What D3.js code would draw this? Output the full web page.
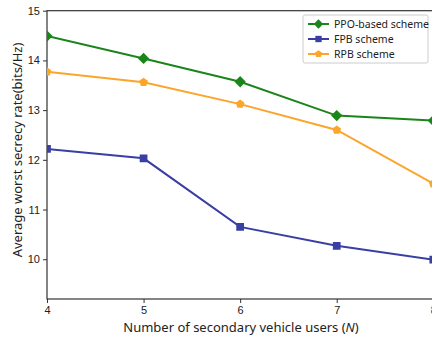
<!DOCTYPE html>
<html>
<head>
<meta charset="utf-8">
<script src="https://cdn.jsdelivr.net/npm/d3@7"></script>
<style>
  html, body { margin: 0; padding: 0; background: #fff; overflow: hidden; }
  svg { display: block; font-family: "Noto Sans", "Open Sans", sans-serif; }
</style>
</head>
<body>
<svg id="chart" width="432" height="338"></svg>
<script>
// Number of secondary vehicle users
const users = [4, 5, 6, 7, 8];
// Average worst secrecy rate (bits/Hz) per scheme
const ppoRate = [14.49, 14.04, 13.57, 12.89, 12.79];
const fpbRate = [12.22, 12.03, 10.65, 10.27, 9.99];
const rpbRate = [13.77, 13.56, 13.12, 12.60, 11.52];
const xTicks = [4, 5, 6, 7, 8];
const yTicks = [10, 11, 12, 13, 14, 15];
const seriesNames = ["PPO-based scheme", "FPB scheme", "RPB scheme"];

const series = [
  { name: seriesNames[0], values: ppoRate, color: "#1a851a", marker: "diamond" },
  { name: seriesNames[1], values: fpbRate, color: "#3a3fa3", marker: "square" },
  { name: seriesNames[2], values: rpbRate, color: "#fba52a", marker: "pentagon" }
];

const svg = d3.select("#chart");
const margin = { left: 47, top: 10.7, right: 433.3, bottom: 299 };

const x = d3.scaleLinear().domain([4, 8]).range([margin.left, margin.right]);
const y = d3.scaleLinear().domain([9.2, 15]).range([margin.bottom, margin.top]);

svg.append("defs").append("clipPath").attr("id", "plotClip")
  .append("rect")
  .attr("x", margin.left).attr("y", margin.top)
  .attr("width", margin.right - margin.left)
  .attr("height", margin.bottom - margin.top);

// axes
const axisColor = "#333";
const xAxis = svg.append("g")
  .attr("transform", `translate(0,${margin.bottom})`)
  .call(d3.axisBottom(x).tickValues(xTicks).tickFormat(d3.format("d")).tickSize(4).tickPadding(3));
const yAxis = svg.append("g")
  .attr("transform", `translate(${margin.left},0)`)
  .call(d3.axisLeft(y).tickValues(yTicks).tickFormat(d3.format("d")).tickSize(4).tickPadding(3));
[xAxis, yAxis].forEach(g => {
  g.select(".domain").remove();
  g.selectAll(".tick line").attr("stroke", axisColor).attr("stroke-width", 1);
  g.selectAll(".tick text").attr("fill", "#222").style("font-size", "11px");
});

// frame
svg.append("rect")
  .attr("x", margin.left).attr("y", margin.top)
  .attr("width", margin.right - margin.left)
  .attr("height", margin.bottom - margin.top)
  .attr("fill", "none").attr("stroke", axisColor).attr("stroke-width", 1.2);

// marker shapes: wide diamond, square, pentagon
const symDiamond = {
  draw(ctx, size) {
    const r = Math.sqrt(size / 2);
    ctx.moveTo(0, -r); ctx.lineTo(r, 0); ctx.lineTo(0, r); ctx.lineTo(-r, 0); ctx.closePath();
  }
};
const symPentagon = {
  draw(ctx, size) {
    const r = Math.sqrt(size / 2.38);
    for (let k = 0; k < 5; k++) {
      const a = -Math.PI / 2 + k * 2 * Math.PI / 5;
      if (k === 0) ctx.moveTo(r * Math.cos(a), r * Math.sin(a));
      else ctx.lineTo(r * Math.cos(a), r * Math.sin(a));
    }
    ctx.closePath();
  }
};
const symbolFor = {
  diamond: d3.symbol().type(symDiamond).size(64),
  square: d3.symbol().type(d3.symbolSquare).size(60),
  pentagon: d3.symbol().type(symPentagon).size(50)
};
const legendSymbolFor = {
  diamond: d3.symbol().type(symDiamond).size(44),
  square: d3.symbol().type(d3.symbolSquare).size(40),
  pentagon: d3.symbol().type(symPentagon).size(34)
};

// lines and markers
const line = d3.line().x((d, i) => x(users[i])).y(d => y(d));
const plot = svg.append("g").attr("clip-path", "url(#plotClip)");
series.forEach(s => {
  plot.append("path")
    .datum(s.values)
    .attr("d", line)
    .attr("fill", "none")
    .attr("stroke", s.color)
    .attr("stroke-width", 2);
  plot.selectAll(null)
    .data(s.values)
    .enter().append("path")
    .attr("d", symbolFor[s.marker])
    .attr("transform", (d, i) => `translate(${x(users[i])},${y(d)})`)
    .attr("fill", s.color);
});

// axis labels
const xl = svg.append("text")
  .attr("x", 241).attr("y", 332)
  .attr("text-anchor", "middle")
  .attr("fill", "#222")
  .style("font-size", "13px");
xl.append("tspan").text("Number of secondary vehicle users (");
xl.append("tspan").attr("font-style", "italic").text("N");
xl.append("tspan").text(")");

svg.append("text")
  .attr("transform", "translate(17,150) rotate(-90)")
  .attr("text-anchor", "middle")
  .attr("dy", "0.35em")
  .attr("fill", "#222")
  .style("font-size", "13px")
  .text("Average worst secrecy rate(bits/Hz)");

// legend
const legend = svg.append("g").attr("transform", "translate(303,15)");
legend.append("rect")
  .attr("width", 125).attr("height", 48)
  .attr("rx", 2)
  .attr("fill", "#fff").attr("fill-opacity", 0.85)
  .attr("stroke", "#ccc").attr("stroke-width", 1);
series.forEach((s, i) => {
  const g = legend.append("g").attr("transform", `translate(0,${9 + i * 15})`);
  g.append("line").attr("x1", 5).attr("x2", 26).attr("y1", 0).attr("y2", 0)
    .attr("stroke", s.color).attr("stroke-width", 2);
  g.append("path").attr("d", legendSymbolFor[s.marker]).attr("transform", "translate(15.5,0)").attr("fill", s.color);
  g.append("text").attr("x", 31).attr("y", 0).attr("dy", "0.35em")
    .attr("fill", "#222").style("font-size", "10.5px").text(s.name);
});
</script>
</body>
</html>
